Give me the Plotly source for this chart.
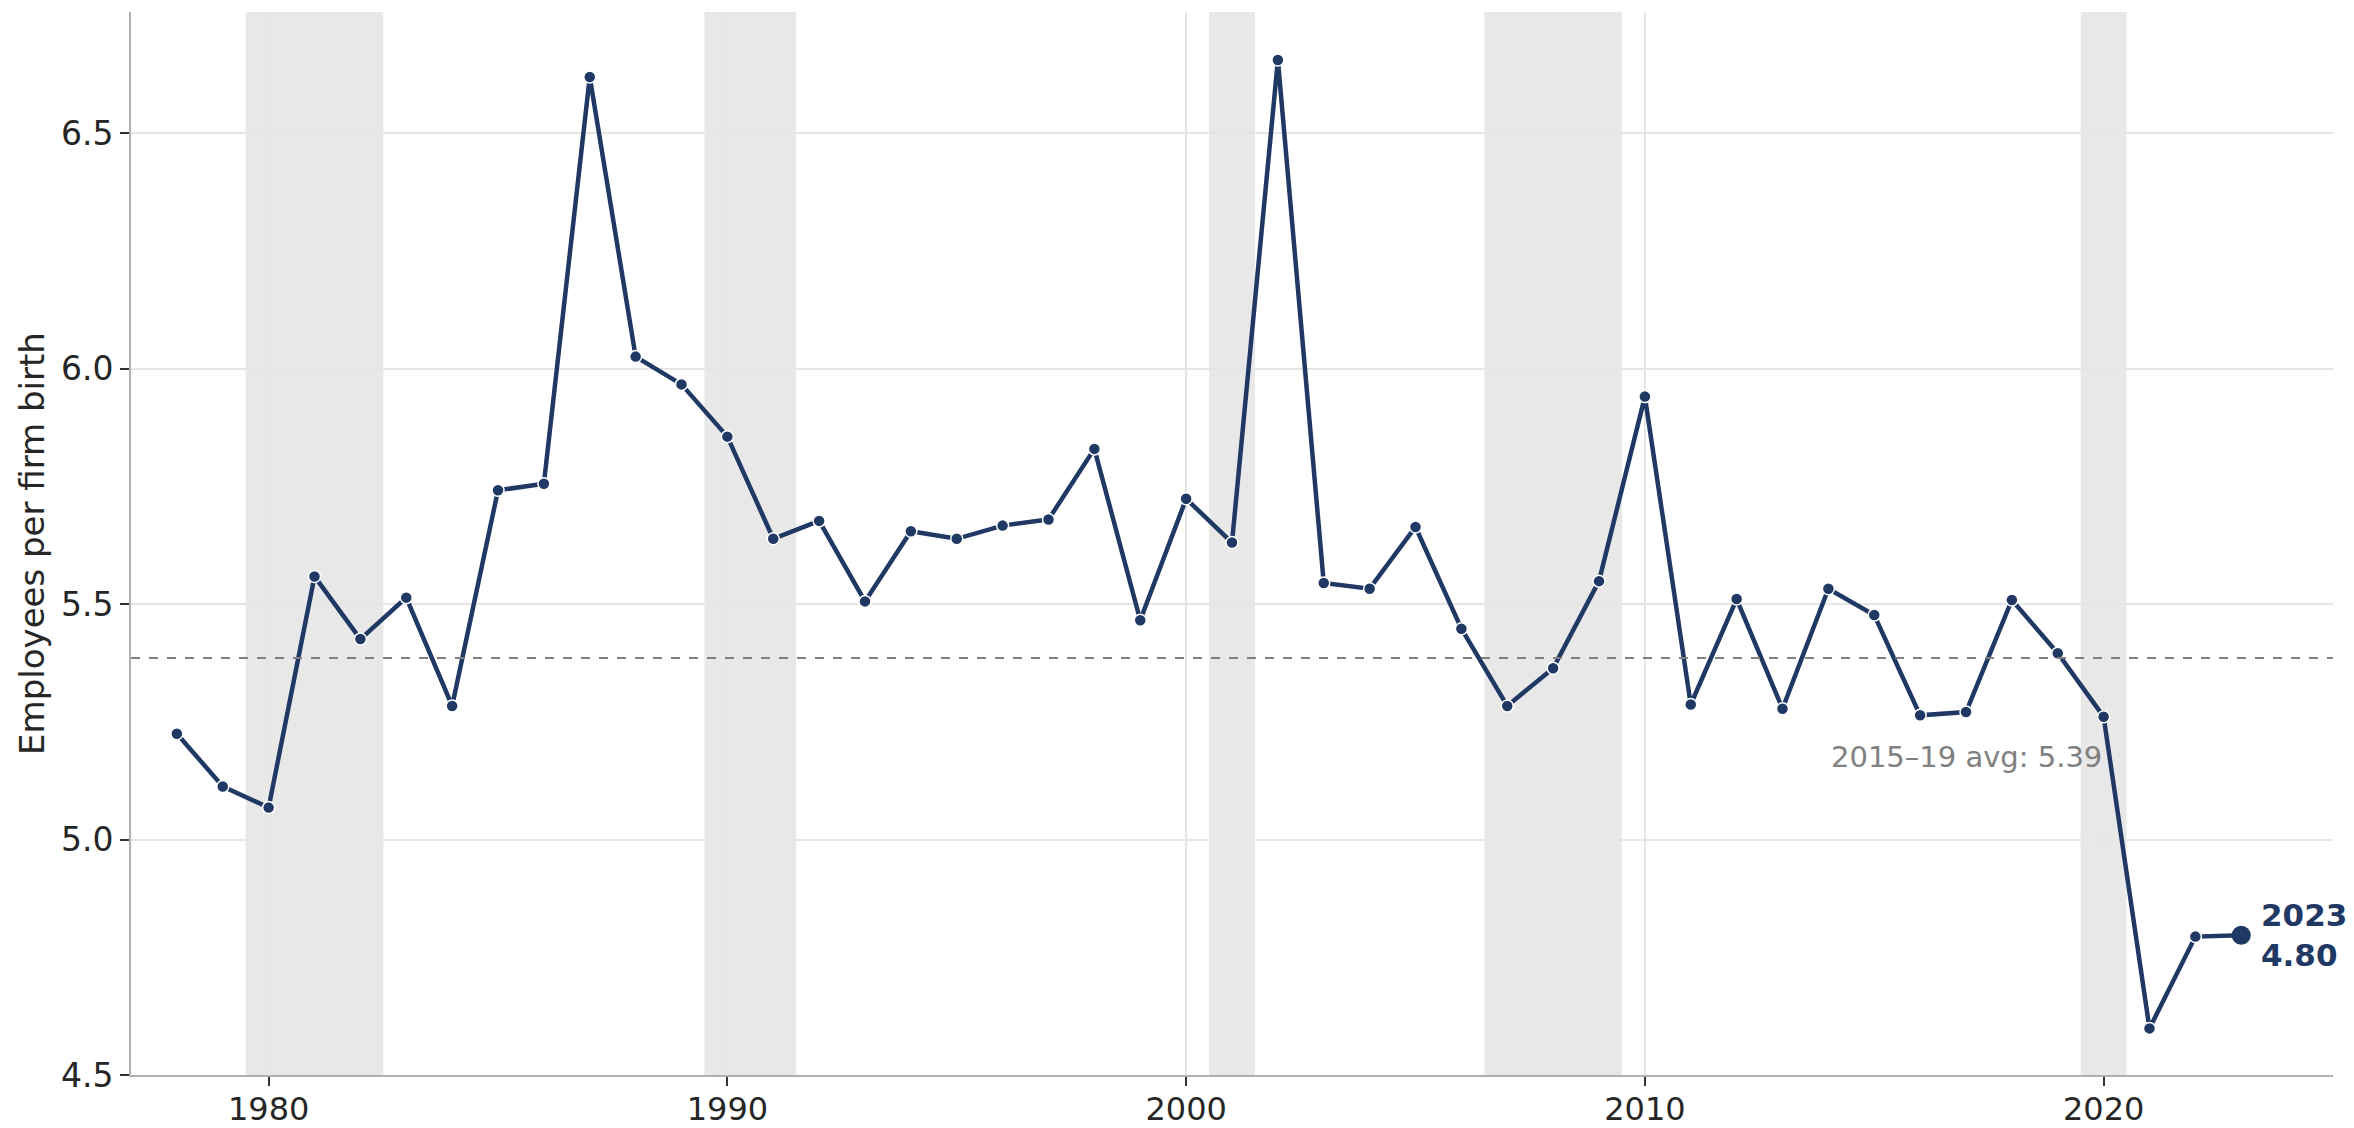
import plotly.graph_objects as go

years = list(range(1978, 2024))
emp_per_birth = [
    5.225, 5.113, 5.068, 5.559, 5.426, 5.514, 5.284, 5.742, 5.756, 6.620,
    6.026, 5.967, 5.856, 5.639, 5.677, 5.506, 5.655, 5.639, 5.667, 5.680,
    5.830, 5.466, 5.724, 5.631, 6.656, 5.545, 5.533, 5.664, 5.448, 5.284,
    5.364, 5.549, 5.941, 5.287, 5.511, 5.278, 5.533, 5.477, 5.264, 5.271,
    5.509, 5.396, 5.261, 4.599, 4.794, 4.797,
]
recession_starts = [1979.5, 1989.5, 2000.5, 2006.5, 2019.5]
recession_ends = [1982.5, 1991.5, 2001.5, 2009.5, 2020.5]
avg_2015_19 = 5.386
avg_label = "2015–19 avg: {:.2f}".format(avg_2015_19)
y_ticks = [4.5, 5.0, 5.5, 6.0, 6.5]
x_ticks = [1980, 1990, 2000, 2010, 2020]

NAVY = "#1f3864"
FONT = "DejaVu Sans"

fig = go.Figure()

fig.add_trace(go.Scatter(
    x=years, y=emp_per_birth, mode="lines+markers",
    line=dict(color=NAVY, width=4.5),
    marker=dict(size=12, color=NAVY, line=dict(color="white", width=1.5)),
    showlegend=False, hoverinfo="x+y",
))
fig.add_trace(go.Scatter(
    x=[years[-1]], y=[emp_per_birth[-1]], mode="markers",
    marker=dict(size=19, color=NAVY),
    showlegend=False, hoverinfo="skip",
))

for s, e in zip(recession_starts, recession_ends):
    fig.add_shape(type="rect", xref="x", yref="paper", x0=s, x1=e, y0=0, y1=1,
                  fillcolor="#e8e8e8", line=dict(width=0), layer="between")

fig.add_shape(type="line", xref="paper", yref="y", x0=0, x1=1,
              y0=avg_2015_19, y1=avg_2015_19,
              line=dict(color="#808080", width=2, dash="dash"), layer="above")

fig.add_annotation(x=2020, y=5.176, xref="x", yref="y", text=avg_label,
                   showarrow=False, xanchor="right", yanchor="middle",
                   font=dict(family=FONT, size=29, color="#808080"))

fig.add_annotation(x=years[-1], y=emp_per_birth[-1], xref="x", yref="y",
                   text="<b>{}</b><br><b>{:.2f}</b>".format(years[-1], emp_per_birth[-1]),
                   showarrow=False, xanchor="left", yanchor="middle", align="left",
                   xshift=18,
                   font=dict(family=FONT, size=31, color=NAVY))

fig.update_layout(
    width=2354, height=1128,
    margin=dict(l=131, r=21, t=12, b=53, autoexpand=False),
    paper_bgcolor="white", plot_bgcolor="white",
    font=dict(family=FONT, size=33, color="#262626"),
)
fig.update_xaxes(
    range=[1977, 2025], tickvals=x_ticks, ticktext=[str(t) for t in x_ticks],
    showgrid=True, gridcolor="#e6e6e6", gridwidth=1.5,
    showline=True, linecolor="#b0b0b0", linewidth=2,
    ticks="outside", ticklen=9, tickwidth=2, tickcolor="#333333",
    tickfont=dict(family=FONT, size=32, color="#262626"),
    ticklabelstandoff=-4,
    zeroline=False, automargin=False,
)
fig.update_yaxes(
    range=[4.5, 6.758], tickvals=y_ticks, ticktext=["{:.1f}".format(t) for t in y_ticks],
    showgrid=True, gridcolor="#e6e6e6", gridwidth=2,
    showline=True, linecolor="#b0b0b0", linewidth=2,
    ticks="outside", ticklen=9, tickwidth=2, tickcolor="#333333",
    tickfont=dict(family=FONT, size=33, color="#262626"),
    title=dict(text="Employees per firm birth", font=dict(family=FONT, size=34, color="#262626"), standoff=6),
    zeroline=False, automargin=True,
)

fig.write_html(
    "out.html",
    config={"displayModeBar": False},
    post_script="document.body.style.margin='0';document.body.style.overflow='hidden';",
)
